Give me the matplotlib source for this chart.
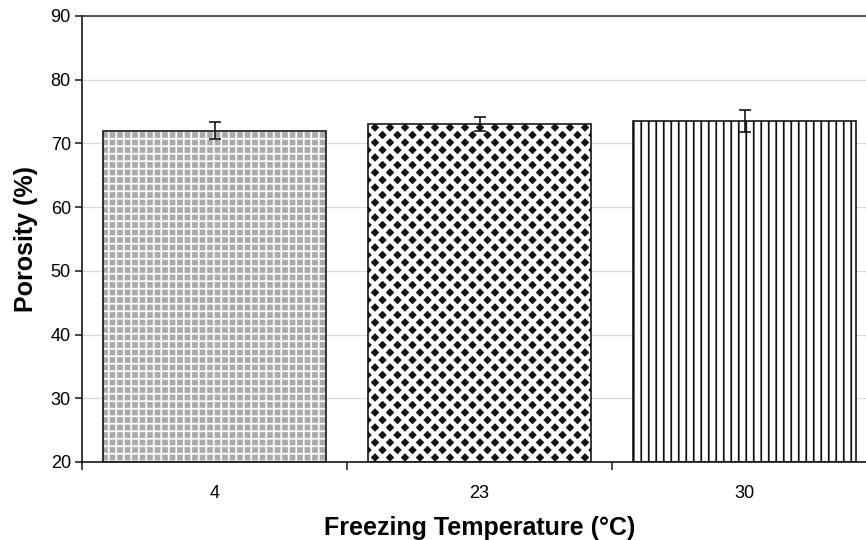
import numpy as np
import matplotlib
matplotlib.use('Agg')
import matplotlib.pyplot as plt

# values
temps = ['4', '23', '30']
porosity = [72.0, 73.0, 73.5]
porosity_err = [1.3, 1.1, 1.75]
y_ticks = [20, 30, 40, 50, 60, 70, 80, 90]

plt.rcParams['font.family'] = ['Liberation Sans', 'DejaVu Sans']

DPI = 90
fig = plt.figure(figsize=(866 / DPI, 540 / DPI), dpi=DPI)
ax = fig.add_axes([82 / 866, 1 - 462 / 540, 795 / 866, 446 / 540])

x = np.arange(len(temps))
width = 0.84

# fill + hatch per bar (hatch colour follows edgecolor, so outline drawn separately)
styles = [
    dict(face='#aaaaaa', hatch='++', hcolor='white', hlw=1.4),
    dict(face='#141414', hatch='xx', hcolor='white', hlw=3.6),
    dict(face='white', hatch='||', hcolor='#111111', hlw=1.4),
]
for i, st in enumerate(styles):
    bar = ax.bar(x[i], porosity[i] - 20, width, bottom=20, color=st['face'],
                 edgecolor=st['hcolor'], hatch=st['hatch'], linewidth=0, zorder=2)
    for p in bar:
        if hasattr(p, 'set_hatch_linewidth'):
            p.set_hatch_linewidth(st['hlw'])
ax.bar(x, np.array(porosity) - 20, width, bottom=20, fill=False,
       edgecolor='#111111', linewidth=1.3, zorder=3)

ax.errorbar(x, porosity, yerr=porosity_err, fmt='none', ecolor='#111111',
            elinewidth=1.3, capsize=4.5, capthick=1.3, zorder=4)

ax.set_xlim(-0.5, 2.5)
ax.set_ylim(20, 90)
ax.set_yticks(y_ticks)
ax.set_xticks([-0.5, 0.5, 1.5, 2.5])
ax.set_xticklabels([])
ax.set_xticks(x, minor=True)
ax.set_xticklabels(temps, minor=True)
ax.tick_params(axis='x', which='minor', length=0, pad=18, labelsize=14.5)
ax.tick_params(axis='x', which='major', length=6, width=1.2, color='#111111')
ax.tick_params(axis='y', length=6, width=1.2, color='#111111', labelsize=14.5, pad=3)

ax.yaxis.grid(True, color='#d9d9d9', linewidth=1.0)
ax.set_axisbelow(True)
for s in ['left', 'bottom', 'top']:
    ax.spines[s].set_linewidth(1.3)
    ax.spines[s].set_color('#111111')
ax.spines['top'].set_color('#333333')
ax.spines['right'].set_visible(False)

ax.set_xlabel('Freezing Temperature (°C)', fontsize=20, fontweight='bold', labelpad=12)
ax.set_ylabel('Porosity (%)', fontsize=20, fontweight='bold', labelpad=10)

fig.savefig('out.png', dpi=DPI)
